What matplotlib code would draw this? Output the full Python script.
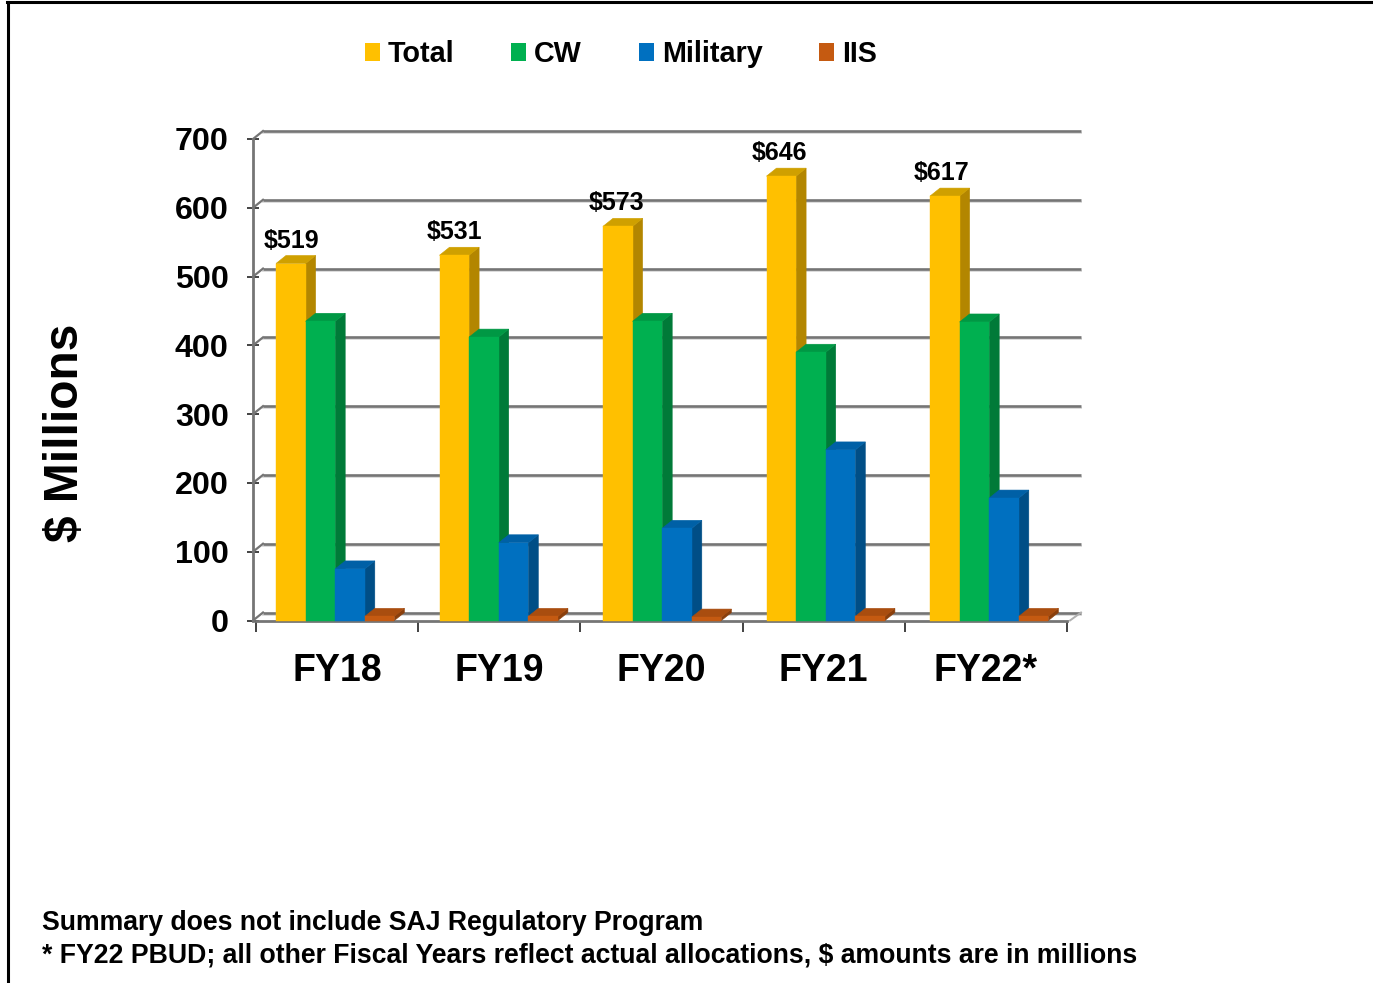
import matplotlib
matplotlib.use("Agg")
import matplotlib.pyplot as plt
from matplotlib.patches import Polygon, Patch
from matplotlib.lines import Line2D

categories = ["FY18", "FY19", "FY20", "FY21", "FY22*"]
series_names = ["Total", "CW", "Military", "IIS"]
total = [519, 531, 573, 646, 617]
cw = [435, 412, 435, 390, 434]
military = [75, 113, 134, 248, 178]
iis = [6, 6, 5, 6, 6]
total_labels = ["$519", "$531", "$573", "$646", "$617"]
y_ticks = [0, 100, 200, 300, 400, 500, 600, 700]

front = ["#FFC000", "#00B050", "#0070C0", "#C55A11"]
side = ["#B38600", "#007A38", "#004E86", "#8A3F0C"]
top = ["#CFA000", "#009844", "#0060A6", "#A94D0F"]

W, H = 1373, 983
plt.rcParams["font.family"] = ["Liberation Sans", "DejaVu Sans"]
plt.rcParams["font.weight"] = "bold"
fig = plt.figure(figsize=(W / 100, H / 100), dpi=100)

X0, X1, Y0, Y700 = 256, 1067, 620.5, 139
ax = fig.add_axes([X0 / W, 1 - Y0 / H, (X1 - X0) / W, (Y0 - Y700) / H])
ax.set_xlim(0, 5)
ax.set_ylim(0, 700)
px_x = 5 / (X1 - X0)
px_y = 700 / (Y0 - Y700)

GRID = "#757575"
GRID_SHADOW = "#dcdcdc"
dx, dy = 10 * px_x, 8 * px_y
lft = -3 * px_x
bx_left, bx_right = lft + dx, 5 + 14 * px_x

for v in y_ticks:
    ax.plot([bx_left, bx_right], [v + dy - 2 * px_y] * 2, color=GRID_SHADOW, lw=1.4, zorder=1, clip_on=False)
    ax.plot([bx_left, bx_right], [v + dy] * 2, color=GRID, lw=1.9, zorder=2, clip_on=False, solid_capstyle="butt")
    ax.plot([lft, bx_left], [v, v + dy], color=GRID, lw=1.6, zorder=2, clip_on=False)
ax.plot([5 + 3 * px_x, bx_right], [0, dy], color="#b0b0b0", lw=1.4, zorder=2, clip_on=False)

bar_w = 29.6 * px_x
start = 20 * px_x
step = 163.5 * px_x
series = [total, cw, military, iis]
for s, vals in enumerate(series):
    xs = [start + i * step + s * bar_w for i in range(len(vals))]
    for x, v in zip(xs, vals):
        r = x + bar_w
        ax.add_patch(Polygon([(r, 0), (r + dx, dy), (r + dx, v + dy), (r, v)], closed=True,
                             facecolor=side[s], edgecolor=side[s], linewidth=0.4, zorder=4 + s * 2, clip_on=False))
        ax.add_patch(Polygon([(x, v), (x + dx, v + dy), (r + dx, v + dy), (r, v)], closed=True,
                             facecolor=top[s], edgecolor=top[s], linewidth=0.4, zorder=4 + s * 2, clip_on=False))
    ax.bar(xs, vals, width=bar_w, align="edge", color=front[s], edgecolor=front[s], linewidth=0.3,
           zorder=5 + s * 2, clip_on=False)

label_step = 162.5 * px_x
for i, (v, t) in enumerate(zip(total, total_labels)):
    ax.annotate(t, xy=(35.5 * px_x + i * label_step, v), xytext=(0, 23 * 0.72), textcoords="offset points",
                ha="center", va="center", fontsize=18, fontweight="bold", color="black", zorder=20,
                annotation_clip=False)

for name in ("top", "right"):
    ax.spines[name].set_visible(False)
ax.spines["left"].set_position(("outward", 2.2))
ax.spines["left"].set_color(GRID)
ax.spines["left"].set_linewidth(2.0)
ax.spines["left"].set_zorder(3)
ax.spines["bottom"].set_color(GRID)
ax.spines["bottom"].set_linewidth(2.0)
ax.spines["bottom"].set_zorder(3)
ax.patch.set_visible(False)

ax.set_yticks(y_ticks)
ax.set_yticklabels([str(v) for v in y_ticks], fontsize=23.2, fontweight="bold")
ax.tick_params(axis="y", direction="inout", length=9, width=1.2, color="#222222", pad=13)
ax.set_xticks(range(6))
ax.set_xticklabels([])
ax.set_xticks([i + 0.5 for i in range(5)], minor=True)
ax.set_xticklabels(categories, minor=True, fontsize=27, fontweight="bold")
ax.tick_params(axis="x", which="major", direction="out", length=8, width=1.2, color="#222222")
ax.tick_params(axis="x", which="minor", length=0, pad=23.5)

fig.text(65 / W, 1 - 433 / H, "$ Millions", rotation=90, ha="center", va="center",
         fontsize=34.5, fontweight="bold")

handles = [Patch(facecolor=c, edgecolor="none", label=n) for c, n in zip(front, series_names)]
fig.legend(handles=handles, loc="upper left", bbox_to_anchor=(365 / W, 1 - 40 / H), ncol=4, frameon=False,
           fontsize=20.7, borderpad=0, borderaxespad=0, columnspacing=1.97, handlelength=0.52,
           handleheight=0.6, handletextpad=0.28, labelspacing=0)

fig.text(42 / W, 1 - 923.5 / H, "Summary does not include SAJ Regulatory Program",
         ha="left", va="center", fontsize=19.15, fontweight="bold")
fig.text(42 / W, 1 - 955.5 / H, "* FY22 PBUD; all other Fiscal Years reflect actual allocations, $ amounts are in millions",
         ha="left", va="center", fontsize=19.15, fontweight="bold")

fig.add_artist(Line2D([8 / W, 8 / W], [0, 1 - 1.5 / H], color="black", lw=2.2, transform=fig.transFigure))
fig.add_artist(Line2D([7 / W, 1], [1 - 1.5 / H, 1 - 1.5 / H], color="black", lw=2.2, transform=fig.transFigure))

fig.savefig("out.png", dpi=100)
